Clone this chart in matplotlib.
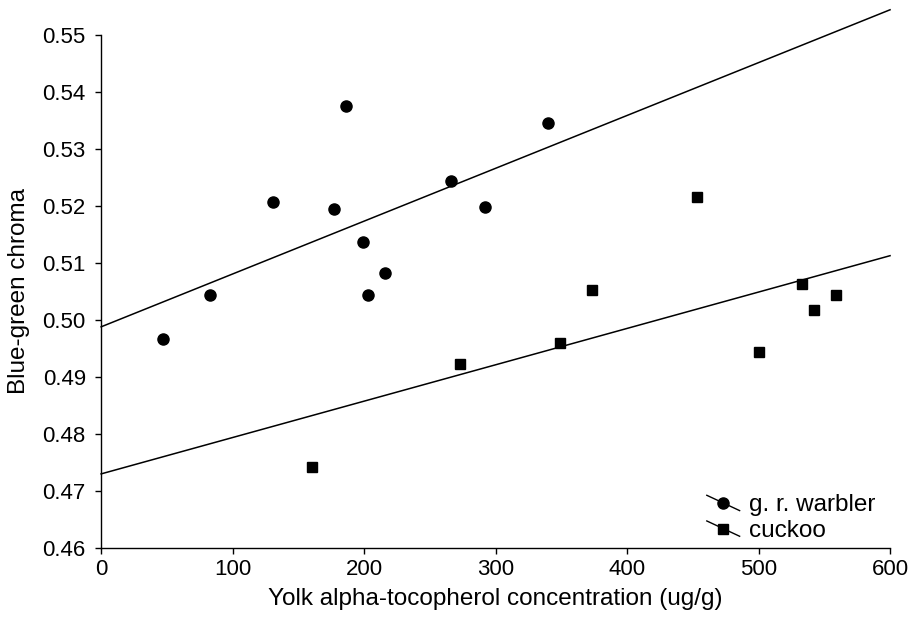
import matplotlib
matplotlib.use("Agg")
import matplotlib.pyplot as plt
from matplotlib.lines import Line2D
from matplotlib.legend_handler import HandlerBase
import numpy as np

plt.rcParams["font.family"] = ["Liberation Sans", "DejaVu Sans"]

# g. r. warbler (circles)
warbler_x = [47, 83, 131, 177, 186, 199, 203, 216, 266, 292, 340]
warbler_y = [0.4966, 0.5044, 0.5207, 0.5194, 0.5375, 0.5137, 0.5044, 0.5082, 0.5243, 0.5199, 0.5345]

# cuckoo (squares)
cuckoo_x = [160, 273, 349, 373, 453, 500, 533, 542, 559]
cuckoo_y = [0.4742, 0.4922, 0.4959, 0.5052, 0.5215, 0.4943, 0.5064, 0.5018, 0.5044]

# fitted regression lines: (intercept, slope)
warbler_fit = (0.4988, 0.0000927)
cuckoo_fit = (0.4730, 0.0000638)

x_ticks = [0, 100, 200, 300, 400, 500, 600]
y_ticks = [0.46, 0.47, 0.48, 0.49, 0.50, 0.51, 0.52, 0.53, 0.54, 0.55]


class DiagonalHandler(HandlerBase):
    """Legend key: a short slanted line with the marker on it."""

    def create_artists(self, legend, orig_handle, xdescent, ydescent,
                       width, height, fontsize, trans):
        x0, x1 = -xdescent, -xdescent + width
        yc = height / 2 - ydescent
        seg = Line2D([x0, x1], [yc + height * 0.45, yc - height * 0.45],
                     color="black", lw=1.0, transform=trans)
        mk = Line2D([(x0 + x1) / 2], [yc], marker=orig_handle.get_marker(),
                    markersize=orig_handle.get_markersize(), color="black",
                    linestyle="none", transform=trans)
        return [seg, mk]


fig = plt.figure(figsize=(9.11, 6.19), dpi=100)
ax = fig.add_axes([0.111, 0.1147, 0.866, 0.8288])

ax.plot(warbler_x, warbler_y, "o", color="black", markersize=8, label="g. r. warbler")
ax.plot(cuckoo_x, cuckoo_y, "s", color="black", markersize=7.5, label="cuckoo")

xs = np.array([0, 600])
for b0, b1 in (warbler_fit, cuckoo_fit):
    ax.plot(xs, b0 + b1 * xs, color="black", lw=1.1, clip_on=False)

ax.set_xlim(0, 600)
ax.set_ylim(0.46, 0.55)
ax.set_xticks(x_ticks)
ax.set_yticks(y_ticks)
ax.set_yticklabels([f"{v:.2f}" for v in y_ticks])
ax.tick_params(direction="out", length=4, width=1, labelsize=16)
ax.tick_params(axis="y", pad=7)
ax.tick_params(axis="x", pad=4)
for side in ("top", "right"):
    ax.spines[side].set_visible(False)
for side in ("left", "bottom"):
    ax.spines[side].set_linewidth(1.0)

ax.set_xlabel("Yolk alpha-tocopherol concentration (ug/g)", fontsize=17.5, labelpad=6)
ax.set_ylabel("Blue-green chroma", fontsize=17.5, labelpad=9)

handles, labels = ax.get_legend_handles_labels()
ax.legend(handles, labels, loc="lower right", bbox_to_anchor=(0.988, 0.002),
          borderaxespad=0, borderpad=0.2,
          frameon=False, fontsize=17.5, handlelength=1.35, handletextpad=0.4,
          labelspacing=0.15,
          handler_map={Line2D: DiagonalHandler()})

fig.savefig("out.png", dpi=100)
